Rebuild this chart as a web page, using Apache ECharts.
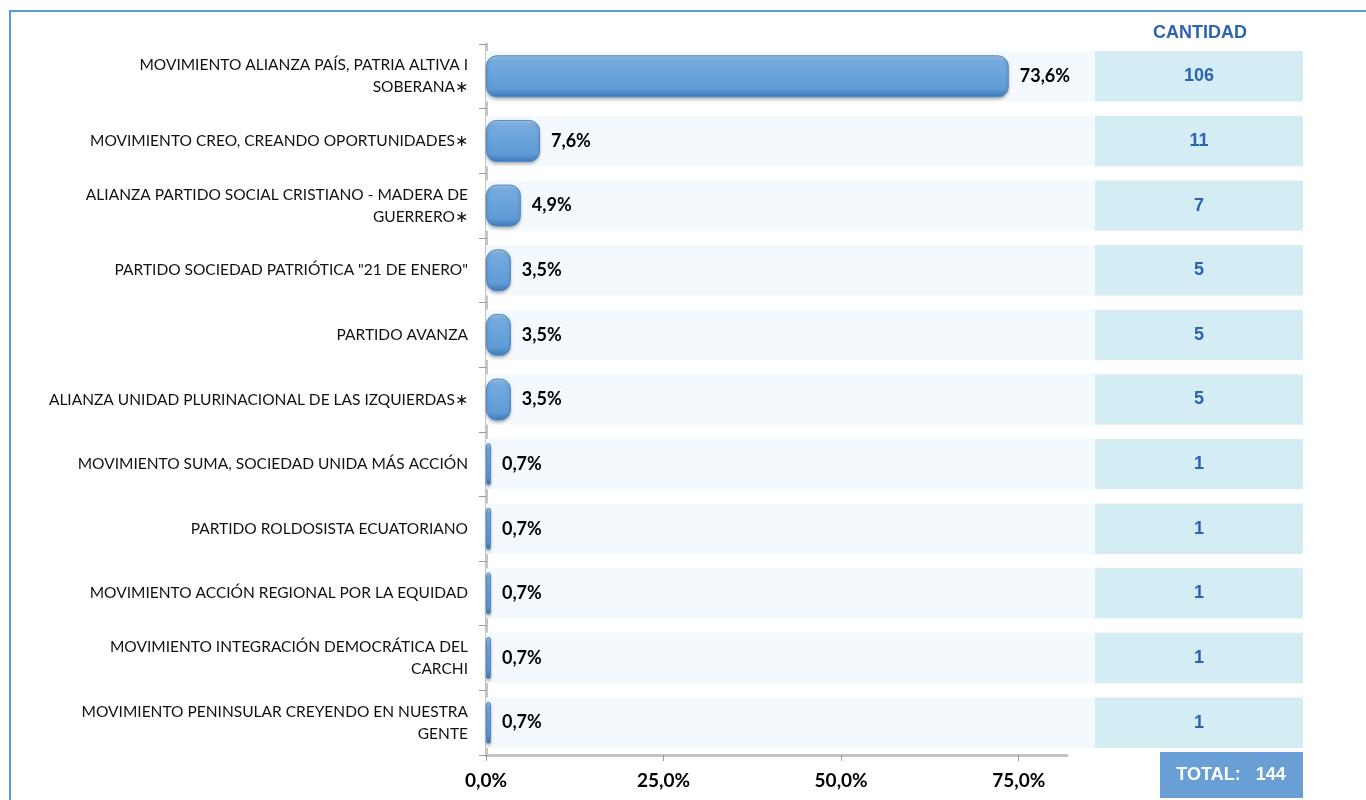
<!DOCTYPE html>
<html>
<head>
<meta charset="utf-8">
<script src="https://cdn.jsdelivr.net/npm/echarts@6/dist/echarts.min.js"></script>
<style>
  html, body { margin: 0; padding: 0; background: #fff; }
  #chart { width: 1366px; height: 800px; }
</style>
</head>
<body>
<div id="chart"></div>
<script>
// data
var partidos = [
    'MOVIMIENTO ALIANZA PAÍS, PATRIA ALTIVA I\nSOBERANA∗',
    'MOVIMIENTO CREO, CREANDO OPORTUNIDADES∗',
    'ALIANZA PARTIDO SOCIAL CRISTIANO - MADERA DE\nGUERRERO∗',
    'PARTIDO SOCIEDAD PATRIÓTICA "21 DE ENERO"',
    'PARTIDO AVANZA',
    'ALIANZA UNIDAD PLURINACIONAL DE LAS IZQUIERDAS∗',
    'MOVIMIENTO SUMA, SOCIEDAD UNIDA MÁS ACCIÓN',
    'PARTIDO ROLDOSISTA ECUATORIANO',
    'MOVIMIENTO ACCIÓN REGIONAL POR LA EQUIDAD',
    'MOVIMIENTO INTEGRACIÓN DEMOCRÁTICA DEL\nCARCHI',
    'MOVIMIENTO PENINSULAR CREYENDO EN NUESTRA\nGENTE'
];
var porcentajes = [73.6, 7.6, 4.9, 3.5, 3.5, 3.5, 0.7, 0.7, 0.7, 0.7, 0.7];
var cantidades = [106, 11, 7, 5, 5, 5, 1, 1, 1, 1, 1];
var xTicks = [0, 25, 50, 75];
var totalCantidad = 144;

var myChart = echarts.init(document.getElementById('chart'));

function pct(v) {
    return v.toFixed(1).replace('.', ',') + '%';
}

myChart.setOption({
    animation: false,
    grid: {
        left: 486,
        right: 299,
        top: 44,
        bottom: 45
    },
    xAxis: {
        type: 'value',
        min: 0,
        max: 81.8,
        axisLine: { show: true, lineStyle: { color: '#c4c4c4', width: 3 } },
        axisTick: { show: true, length: 6, customValues: xTicks, lineStyle: { color: '#9a9a9a' } },
        axisLabel: {
            customValues: xTicks,
            formatter: function (v) { return pct(v); },
            color: '#000',
            fontFamily: 'Lato',
            fontWeight: 'bold',
            fontSize: 19,
            margin: 16
        },
        splitLine: { show: false }
    },
    yAxis: {
        type: 'category',
        inverse: true,
        data: partidos,
        axisLine: { show: true, lineStyle: { color: '#c4c4c4', width: 3 } },
        axisTick: { show: true, length: 7, lineStyle: { color: '#9a9a9a' } },
        axisLabel: {
            color: '#111',
            fontFamily: 'Lato',
            fontSize: 15.5,
            lineHeight: 22,
            margin: 18,
            align: 'right'
        }
    },
    graphic: [
        {
            type: 'rect',
            silent: true,
            shape: { x: 10, y: 11, width: 1400, height: 900 },
            style: { fill: 'none', stroke: '#5b9bd5', lineWidth: 2 }
        },
        {
            type: 'text',
            x: 1200, y: 33,
            style: {
                text: 'CANTIDAD', fill: '#2e63ad', font: 'bold 18px Arial',
                align: 'center', verticalAlign: 'middle'
            }
        },
        {
            type: 'rect',
            shape: { x: 1160, y: 752, width: 143, height: 46 },
            style: { fill: '#6a9fd6' }
        },
        {
            type: 'text',
            x: 1231, y: 775,
            style: {
                text: 'TOTAL:   ' + totalCantidad, fill: '#fff', font: 'bold 18px Arial',
                align: 'center', verticalAlign: 'middle'
            }
        }
    ],
    series: [
        {
            // row bands + CANTIDAD cells
            type: 'custom',
            z: 1,
            clip: false,
            data: cantidades.map(function (c, i) { return [i, c]; }),
            encode: { y: 0 },
            renderItem: function (params, api) {
                var cs = params.coordSys;
                var cy = api.coord([0, api.value(0)])[1];
                var h = api.size([0, 1])[1] * 0.78;
                var bandEnd = cs.x + cs.width + 28;
                return {
                    type: 'group',
                    children: [
                        {
                            type: 'rect',
                            shape: { x: cs.x, y: cy - h / 2, width: bandEnd - cs.x, height: h },
                            style: { fill: '#f4f9fd' }
                        },
                        {
                            type: 'rect',
                            shape: { x: bandEnd, y: cy - h / 2, width: 208, height: h },
                            style: { fill: '#d4ecf4' }
                        },
                        {
                            type: 'text',
                            x: bandEnd + 104, y: cy,
                            style: {
                                text: String(api.value(1)), fill: '#2e63ad',
                                font: 'bold 18px Arial', align: 'center', verticalAlign: 'middle'
                            }
                        }
                    ]
                };
            }
        },
        {
            type: 'bar',
            z: 3,
            data: porcentajes,
            barWidth: 42,
            itemStyle: {
                borderRadius: 10,
                borderColor: '#4f88c4',
                borderWidth: 1,
                color: new echarts.graphic.LinearGradient(0, 0, 0, 1, [
                    { offset: 0, color: '#a8cdef' },
                    { offset: 0.14, color: '#74abdf' },
                    { offset: 0.8, color: '#5f9bd6' },
                    { offset: 1, color: '#3f78b6' }
                ]),
                shadowColor: 'rgba(0,0,0,0.25)',
                shadowBlur: 3,
                shadowOffsetY: 2
            },
            label: {
                show: true,
                position: 'right',
                distance: 11,
                formatter: function (p) { return pct(p.value); },
                color: '#000',
                fontFamily: 'Lato',
                fontWeight: 'bold',
                fontSize: 18
            }
        }
    ]
});
</script>
</body>
</html>
